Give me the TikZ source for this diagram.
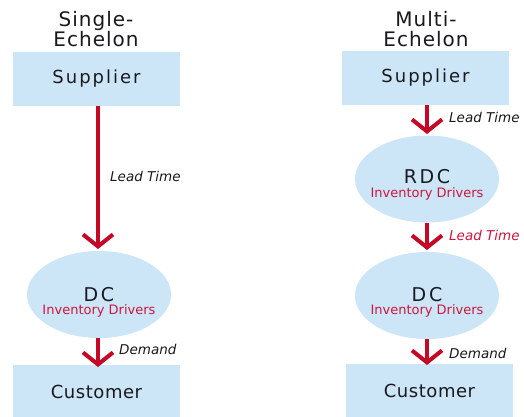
\documentclass[tikz,border=0pt]{standalone}
\usepackage{fontspec}
\setmainfont{DejaVu Sans}
\usetikzlibrary{arrows.meta,shapes.geometric}
\definecolor{boxblue}{RGB}{204,230,248}
\definecolor{flowred}{RGB}{196,8,38}
\definecolor{driverred}{RGB}{205,22,62}
\definecolor{inktext}{RGB}{26,26,30}
\begin{document}
\begin{tikzpicture}[x=1pt,y=-1pt,
  title/.style={text=inktext,font=\fontsize{20}{20}\selectfont\addfontfeatures{LetterSpace=5},align=center,inner sep=0pt},
  tier/.style={fill=boxblue,draw=none,minimum width=167pt,minimum height=54pt,inner sep=0pt,text=inktext},
  site/.style={ellipse,fill=boxblue,draw=none,minimum width=144pt,minimum height=87pt,inner sep=0pt},
  sitename/.style={anchor=base,inner sep=0pt,text=inktext,font=\fontsize{19}{19}\selectfont\addfontfeatures{LetterSpace=14}},
  drivers/.style={anchor=base,inner sep=0pt,text=driverred,font=\fontsize{13}{13}\selectfont},
  flow/.style={draw=flowred,line width=4pt,-{Straight Barb[length=12pt,width=30pt]}},
  flowlabel/.style={font=\fontsize{13.5}{13.5}\selectfont\itshape,text=inktext,anchor=west,inner sep=0pt}]
\useasboundingbox (0,0) rectangle (524,416);
\fill[white] (0,0) rectangle (524,416);

% single-echelon column
\node[title] (t1) at (96,29) {Single-\\Echelon};
\node[tier,font=\fontsize{18}{18}\selectfont\addfontfeatures{LetterSpace=11}] (sup1) at (96.5,79) {Supplier};
\node[site] (dc1) at (99,294.5) {};
\node[sitename] (dc1name) at (99,301) {DC};
\node[drivers] (dc1drv) at (99,314.5) {Inventory Drivers};
\node[tier,font=\fontsize{18}{18}\selectfont\addfontfeatures{LetterSpace=3}] (cus1) at (96.5,391.5) {Customer};
\draw[flow] (sup1.south -| 98,0) -- (98,249);
\draw[flow] (dc1.south -| 98,0) -- (98,367);
\node[flowlabel] (lt1) at (110,176) {Lead Time};
\node[flowlabel] (dm1) at (119,349) {Demand};

% multi-echelon column
\node[title] (t2) at (426,29) {Multi-\\Echelon};
\node[tier,font=\fontsize{18}{18}\selectfont\addfontfeatures{LetterSpace=11}] (sup2) at (425.5,78) {Supplier};
\node[site] (rdc) at (427,179) {};
\node[sitename] (rdcname) at (427,183.5) {RDC};
\node[drivers] (rdcdrv) at (427,197.5) {Inventory Drivers};
\node[site] (dc2) at (427,295.5) {};
\node[sitename] (dc2name) at (427,301) {DC};
\node[drivers] (dc2drv) at (427,314.5) {Inventory Drivers};
\node[tier,font=\fontsize{18}{18}\selectfont\addfontfeatures{LetterSpace=3}] (cus2) at (429.5,391) {Customer};
\draw[flow] (sup2.south -| 427,0) -- (427,134);
\draw[flow] (rdc.south) -- (427,250);
\draw[flow] (dc2.south) -- (427,365);
\node[flowlabel] (lt2) at (449,117) {Lead Time};
\node[flowlabel,text=driverred] (lt3) at (449,235) {Lead Time};
\node[flowlabel] (dm2) at (449,353) {Demand};
\end{tikzpicture}
\end{document}
